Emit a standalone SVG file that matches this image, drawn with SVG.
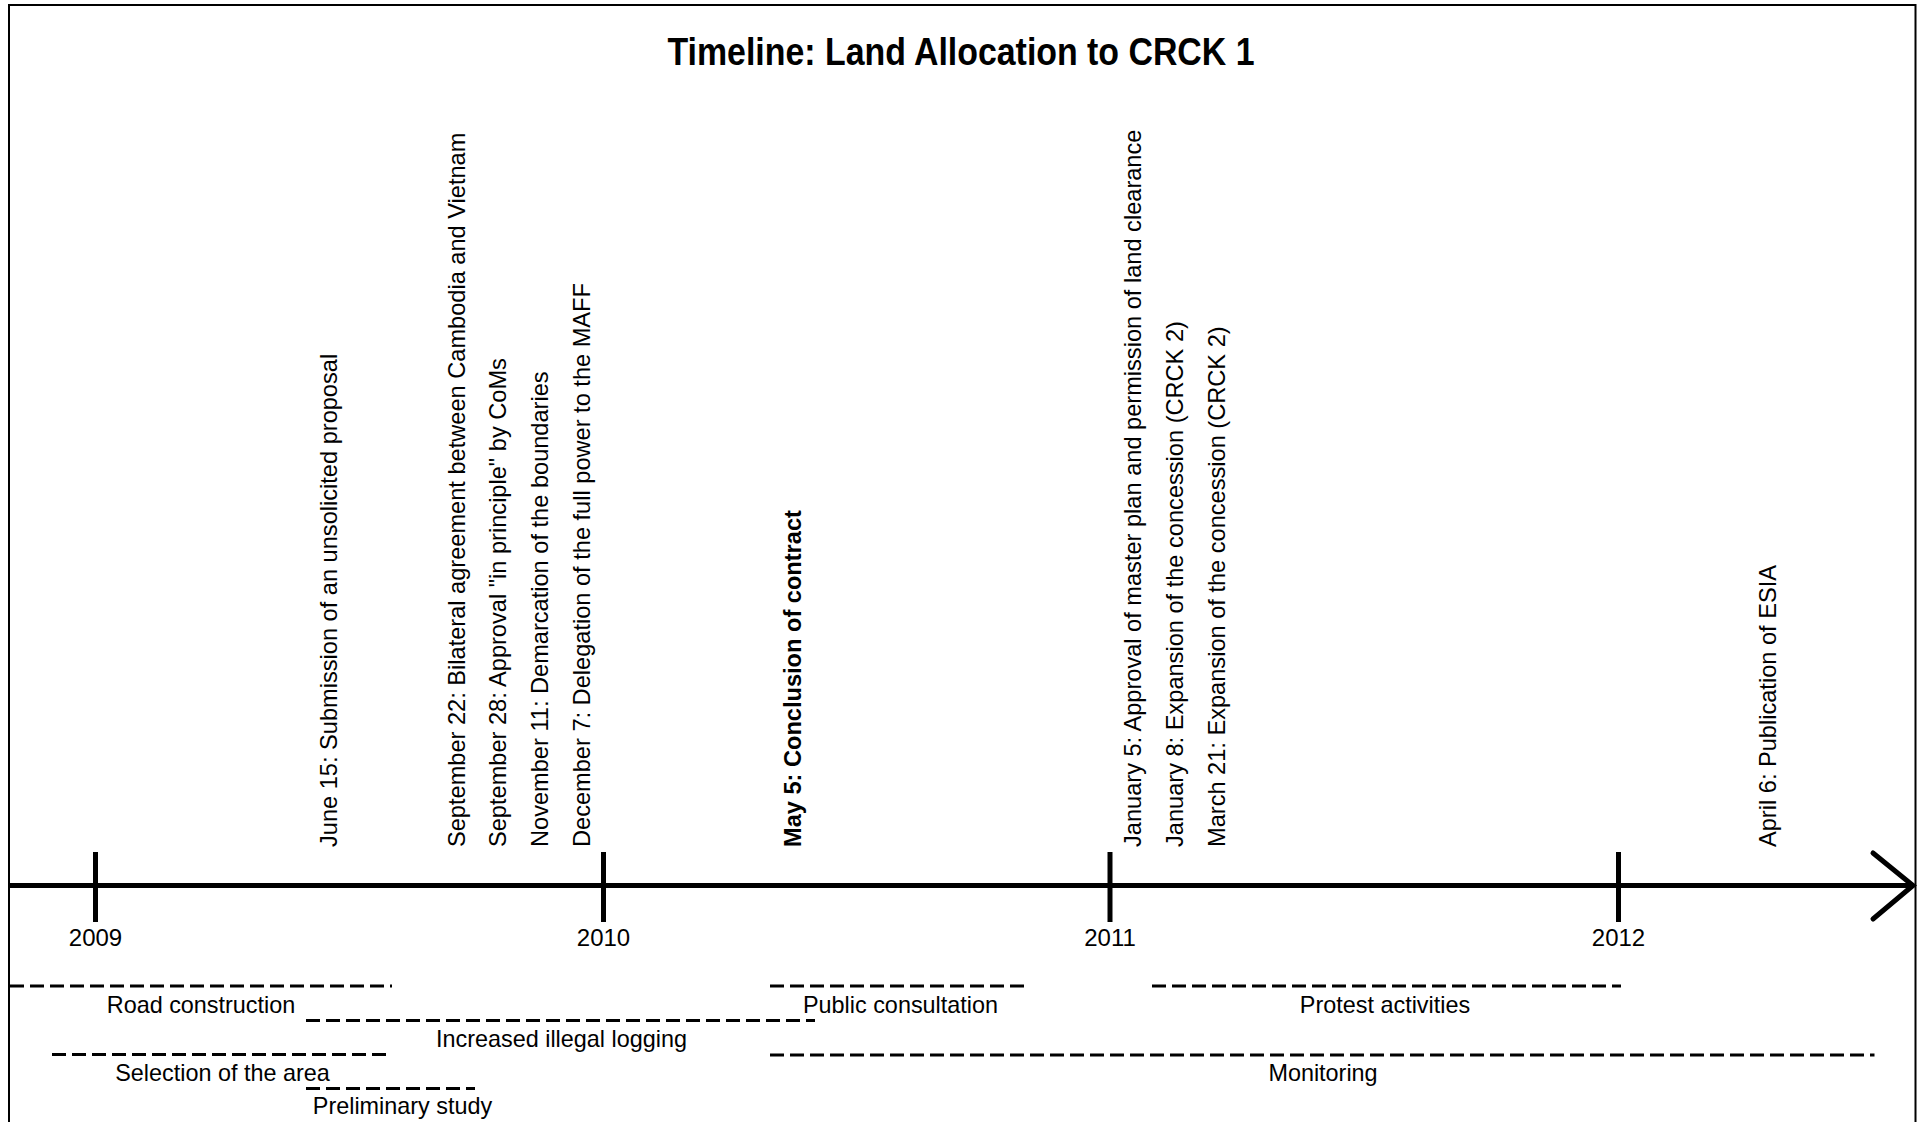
<svg xmlns="http://www.w3.org/2000/svg" width="1921" height="1122" viewBox="0 0 1921 1122">
  <style>
    text { font-family: "Liberation Sans", Arial, sans-serif; fill: #000; }
    .title { font-size: 38px; font-weight: bold; text-anchor: middle; }
    .year { font-size: 24px; text-anchor: middle; }
    .event { font-size: 23.6px; }
    .event.key { font-weight: bold; }
    .period-label { font-size: 23.4px; text-anchor: middle; }
    .axis { stroke: #000; stroke-width: 5; fill: none; }
    .tick { stroke: #000; stroke-width: 5; }
    .period { stroke: #000; stroke-width: 3; stroke-dasharray: 14 6; fill: none; }
  </style>

  <!-- page background and frame -->
  <rect x="0" y="0" width="1921" height="1122" fill="#fff"/>
  <rect x="9" y="5" width="1906.5" height="1200" fill="none" stroke="#000" stroke-width="2"/>

  <text id="title" class="title" x="961" y="65" textLength="587" lengthAdjust="spacingAndGlyphs">Timeline: Land Allocation to CRCK 1</text>

  <!-- time axis with year ticks -->
  <g id="connectors">
    <line class="axis" x1="9" y1="885.5" x2="1912" y2="885.5"/>
    <polyline class="axis" points="1873,853 1913,885.5 1873,919" stroke-linecap="round" stroke-linejoin="miter"/>
    <line class="tick" x1="95.5" y1="852" x2="95.5" y2="922"/>
    <line class="tick" x1="603.5" y1="852" x2="603.5" y2="922"/>
    <line class="tick" x1="1110" y1="852" x2="1110" y2="922"/>
    <line class="tick" x1="1618.5" y1="852" x2="1618.5" y2="922"/>
  </g>

  <g id="years">
    <text class="year" x="95.5" y="946">2009</text>
    <text class="year" x="603.5" y="946">2010</text>
    <text class="year" x="1110" y="946">2011</text>
    <text class="year" x="1618.5" y="946">2012</text>
  </g>

  <!-- events, written bottom-to-top above the axis -->
  <g id="event-2009-06-15"><text class="event" transform="translate(337,847) rotate(-90)">June 15: Submission of an unsolicited proposal</text></g>
  <g id="event-2009-09-22"><text class="event" transform="translate(465,847) rotate(-90)">September 22: Bilateral agreement between Cambodia and Vietnam</text></g>
  <g id="event-2009-09-28"><text class="event" transform="translate(506,847) rotate(-90)">September 28: Approval "in principle" by CoMs</text></g>
  <g id="event-2009-11-11"><text class="event" transform="translate(548,847) rotate(-90)">November 11: Demarcation of the boundaries</text></g>
  <g id="event-2009-12-07"><text class="event" transform="translate(590,847) rotate(-90)">December 7: Delegation of the full power to the MAFF</text></g>
  <g id="event-2010-05-05"><text class="event key" transform="translate(801,847) rotate(-90)">May 5: Conclusion of contract</text></g>
  <g id="event-2011-01-05"><text class="event" transform="translate(1141,847) rotate(-90)">January 5: Approval of master plan and permission of land clearance</text></g>
  <g id="event-2011-01-08"><text class="event" transform="translate(1183,847) rotate(-90)">January 8: Expansion of the concession (CRCK 2)</text></g>
  <g id="event-2011-03-21"><text class="event" transform="translate(1225,847) rotate(-90)">March 21: Expansion of the concession (CRCK 2)</text></g>
  <g id="event-2012-04-06"><text class="event" transform="translate(1776,847) rotate(-90)">April 6: Publication of ESIA</text></g>

  <!-- activity periods below the axis -->
  <g id="period-road">
    <line class="period" x1="10" y1="986" x2="392" y2="986"/>
    <text class="period-label" x="201" y="1013">Road construction</text>
  </g>
  <g id="period-logging">
    <line class="period" x1="306" y1="1020.5" x2="815" y2="1020.5"/>
    <text class="period-label" x="561.5" y="1046.5">Increased illegal logging</text>
  </g>
  <g id="period-selection">
    <line class="period" x1="52" y1="1054.5" x2="392" y2="1054.5"/>
    <text class="period-label" x="222.5" y="1080.5">Selection of the area</text>
  </g>
  <g id="period-study">
    <line class="period" x1="306" y1="1088.5" x2="475" y2="1088.5"/>
    <text class="period-label" x="402.5" y="1114">Preliminary study</text>
  </g>
  <g id="period-consultation">
    <line class="period" x1="770" y1="986" x2="1027" y2="986"/>
    <text class="period-label" x="900.5" y="1013">Public consultation</text>
  </g>
  <g id="period-protest">
    <line class="period" x1="1152" y1="986" x2="1621" y2="986"/>
    <text class="period-label" x="1385" y="1013">Protest activities</text>
  </g>
  <g id="period-monitoring">
    <line class="period" x1="770" y1="1055" x2="1874.5" y2="1055"/>
    <text class="period-label" x="1323" y="1080.5">Monitoring</text>
  </g>
</svg>
